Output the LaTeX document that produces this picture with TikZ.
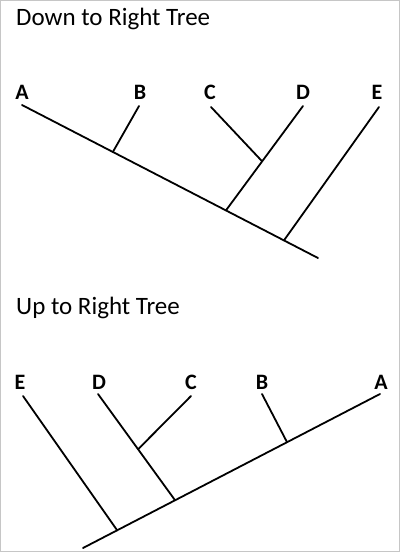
\documentclass[tikz,border=0pt]{standalone}
\usepackage{fontspec}
\setmainfont{Carlito}
\usetikzlibrary{calc}
\begin{document}
\begin{tikzpicture}[x=1pt,y=-1pt,
  branch/.style={line width=1.8pt, line cap=round},
  leaf/.style={font=\fontsize{22}{22}\selectfont\bfseries, anchor=base, inner sep=0pt},
  title/.style={font=\fontsize{25}{25}\selectfont, anchor=base west, inner sep=0pt}]
\useasboundingbox (0,0) rectangle (400,552);
\draw[gray!45, line width=1pt] (0.5,0.5) rectangle (399.5,551.5);
% ---- Down to Right Tree ----
\node[title] (t1) at (16,25) {Down to Right Tree};
\node[leaf] (A1) at (22,99) {A};
\node[leaf] (B1) at (140,99) {B};
\node[leaf] (C1) at (210,99) {C};
\node[leaf] (D1) at (303,99) {D};
\node[leaf] (E1) at (377,99) {E};
\coordinate (a1) at (22,105);
\coordinate (r1) at (318,258);
\coordinate (b1) at (139,106);
\coordinate (c1) at (211,107);
\coordinate (d1) at (303,106);
\coordinate (e1) at (379,107);
\coordinate (jb1) at ($(a1)!0.307!(r1)$);
\coordinate (jd1) at ($(a1)!0.689!(r1)$);
\coordinate (je1) at ($(a1)!0.885!(r1)$);
\coordinate (jc1) at ($(d1)!0.53!(jd1)$);
\draw[branch] (a1) -- (r1);
\draw[branch] (b1) -- (jb1);
\draw[branch] (d1) -- (jd1);
\draw[branch] (c1) -- (jc1);
\draw[branch] (e1) -- (je1);
% ---- Up to Right Tree ----
\node[title] (t2) at (16,314) {Up to Right Tree};
\node[leaf] (E2) at (20,389) {E};
\node[leaf] (D2) at (99,389) {D};
\node[leaf] (C2) at (191,389) {C};
\node[leaf] (B2) at (262,389) {B};
\node[leaf] (A2) at (381,389) {A};
\coordinate (r2) at (83,548);
\coordinate (a2) at (380,394);
\coordinate (e2) at (23,396);
\coordinate (d2) at (98,394);
\coordinate (c2) at (191,396);
\coordinate (b2) at (262,394);
\coordinate (je2) at ($(r2)!0.115!(a2)$);
\coordinate (jd2) at ($(r2)!0.31!(a2)$);
\coordinate (jb2) at ($(r2)!0.687!(a2)$);
\coordinate (jc2) at ($(d2)!0.52!(jd2)$);
\draw[branch] (r2) -- (a2);
\draw[branch] (e2) -- (je2);
\draw[branch] (d2) -- (jd2);
\draw[branch] (c2) -- (jc2);
\draw[branch] (b2) -- (jb2);
\end{tikzpicture}
\end{document}
